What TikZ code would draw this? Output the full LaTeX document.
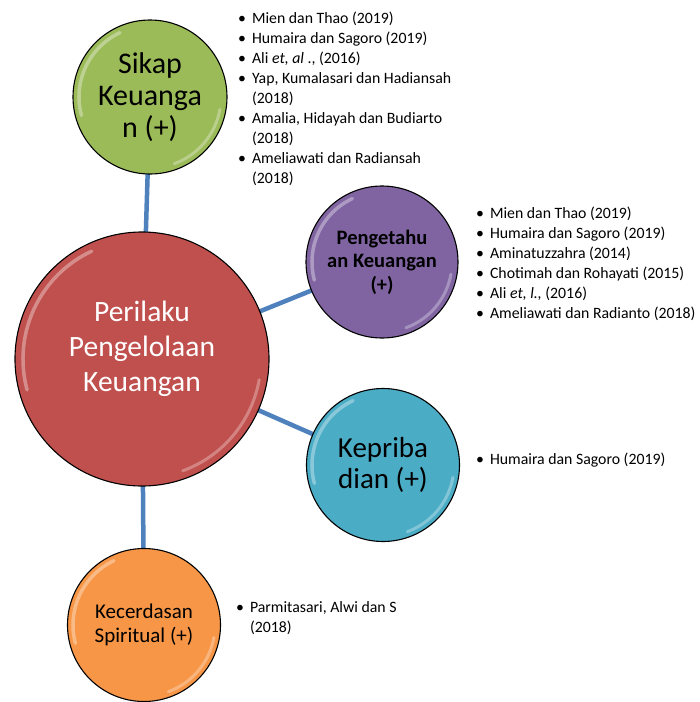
\documentclass[tikz,border=0pt]{standalone}
\usepackage{fontspec}
\setmainfont{Carlito}
\usetikzlibrary{backgrounds}
\definecolor{linkblue}{HTML}{4F81BD}
\definecolor{redfill}{HTML}{C0504D}
\definecolor{greenfill}{HTML}{9BBB59}
\definecolor{purplefill}{HTML}{8064A2}
\definecolor{cyanfill}{HTML}{4BACC6}
\definecolor{orangefill}{HTML}{F79646}
\tikzset{
  bubble/.style={circle,draw=black,line width=1.1pt,inner sep=0pt,align=center},
  reflist/.style={anchor=north west,inner sep=0pt,font=\fontsize{15.8}{20}\selectfont},
  link/.style={linkblue,line width=4.5pt}
}
% white rim highlights on a bubble: node, radius
\newcommand\gloss[2]{%
  \draw[white,opacity=.35,line width=3.5pt,line cap=round] ([shift={(165:#2)}]#1.center) arc[start angle=165,end angle=245,radius=#2];
  \draw[white,opacity=.3,line width=3pt,line cap=round] ([shift={(10:#2)}]#1.center) arc[start angle=10,end angle=70,radius=#2];}
\newcommand\refs[1]{\begin{tabular}{@{}l@{\hspace{6pt}}l@{}}#1\end{tabular}}
\begin{document}
\begin{tikzpicture}[x=1pt,y=-1pt]
  \useasboundingbox (0,0) rectangle (700,702);
  \node[bubble,fill=redfill,minimum size=254pt] (main) at (142,359) {};
  \node[text=white,align=center,font=\fontsize{29.5}{35}\selectfont] (mainlbl) at ([yshift=10pt]main.center) {Perilaku\\Pengelolaan\\Keuangan};
  \node[bubble,fill=greenfill,minimum size=154pt,font=\fontsize{30}{32}\selectfont] (sikap) at (150,97) {Sikap\\Keuanga\\n (+)};
  \node[bubble,fill=purplefill,minimum size=152pt,font=\fontsize{20.5}{23.5}\selectfont\bfseries] (tahu) at (382,262) {Pengetahu\\an Keuangan\\(+)};
  \node[bubble,fill=cyanfill,minimum size=153pt,font=\fontsize{29}{31}\selectfont] (pribadi) at (383,465) {Kepriba\\dian (+)};
  \node[bubble,fill=orangefill,minimum size=153pt,font=\fontsize{21}{24}\selectfont] (cerdas) at (144,625) {Kecerdasan\\Spiritual (+)};
  \gloss{main}{119}\gloss{sikap}{71}\gloss{tahu}{70}\gloss{pribadi}{71}\gloss{cerdas}{71}
  \begin{scope}[on background layer]
    \draw[link] (main.center) -- (sikap.center);
    \draw[link] (main.center) -- (tahu.center);
    \draw[link] (main.center) -- (pribadi.center);
    \draw[link] (main.center) -- (cerdas.center);
  \end{scope}
  \node[reflist] (sikaprefs) at (238,9) {\refs{%
    \textbullet & Mien dan Thao (2019)\\
    \textbullet & Humaira dan Sagoro (2019)\\
    \textbullet & Ali \textit{et, al} ., (2016)\\
    \textbullet & Yap, Kumalasari dan Hadiansah\\ & (2018)\\
    \textbullet & Amalia, Hidayah dan Budiarto\\ & (2018)\\
    \textbullet & Ameliawati dan Radiansah\\ & (2018)}};
  \node[reflist] (tahurefs) at (476,204) {\refs{%
    \textbullet & Mien dan Thao (2019)\\
    \textbullet & Humaira dan Sagoro (2019)\\
    \textbullet & Aminatuzzahra (2014)\\
    \textbullet & Chotimah dan Rohayati (2015)\\
    \textbullet & Ali \textit{et, l.,} (2016)\\
    \textbullet & Ameliawati dan Radianto (2018)}};
  \node[reflist] (pribadirefs) at (476,450) {\refs{\textbullet & Humaira dan Sagoro (2019)}};
  \node[reflist] (cerdasrefs) at (236,598) {\refs{%
    \textbullet & Parmitasari, Alwi dan S\\ & (2018)}};
\end{tikzpicture}
\end{document}
